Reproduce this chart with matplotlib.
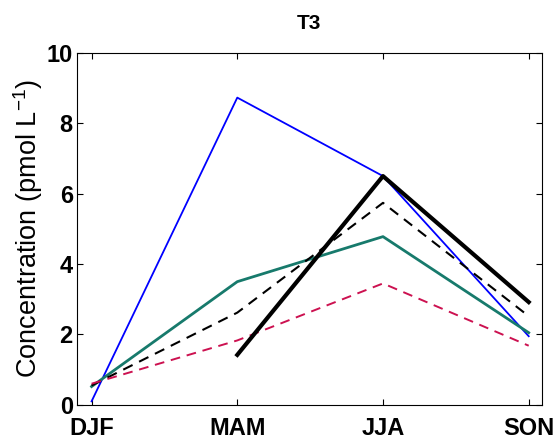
import matplotlib
matplotlib.use('Agg')
import matplotlib.pyplot as plt
import numpy as np

plt.rcParams['font.family'] = ['Liberation Sans', 'DejaVu Sans']

seasons = ['DJF', 'MAM', 'JJA', 'SON']
blue = [0.1, 8.73, 6.5, 1.95]
teal = [0.52, 3.5, 4.78, 2.05]
black_dash = [0.55, 2.62, 5.74, 2.52]
red_dash = [0.6, 1.83, 3.45, 1.68]
black_thick = [1.42, 6.5, 2.92]  # MAM, JJA, SON

x = np.arange(1, len(seasons) + 1)

fig = plt.figure(figsize=(5.58, 4.41), dpi=100)
ax = fig.add_axes([0.138, 0.082, 0.833, 0.798])

ax.plot(x, blue, color='#0000ff', lw=1.3)
ax.plot(x, teal, color='#177a6c', lw=2.0)
ax.plot(x, black_dash, color='black', lw=1.5, ls=(0, (5, 3.5)))
ax.plot(x, red_dash, color='#cc1150', lw=1.4, ls=(0, (5, 3.5)))
ax.plot(x[1:], black_thick, color='black', lw=3.0)

ax.set_xlim(0.9, 4.09)
ax.set_ylim(0, 10)
ax.set_xticks(x)
ax.set_xticklabels(seasons, fontsize=17, fontweight='bold')
ax.set_yticks(np.arange(0, 11, 2))
ax.set_yticklabels([str(v) for v in range(0, 11, 2)], fontsize=17, fontweight='bold')
ax.tick_params(direction='in', top=True, right=True, length=4, width=0.8)
ax.tick_params(axis='x', pad=8.5)
ax.tick_params(axis='y', pad=3)
ax.set_ylabel('Concentration (pmol L$^{\\mathregular{-1}}$)', fontsize=19.5, labelpad=1)
ax.set_title('T3', fontsize=15, fontweight='bold', pad=17)
for s in ax.spines.values():
    s.set_linewidth(0.8)

fig.savefig('out.png', dpi=100)
